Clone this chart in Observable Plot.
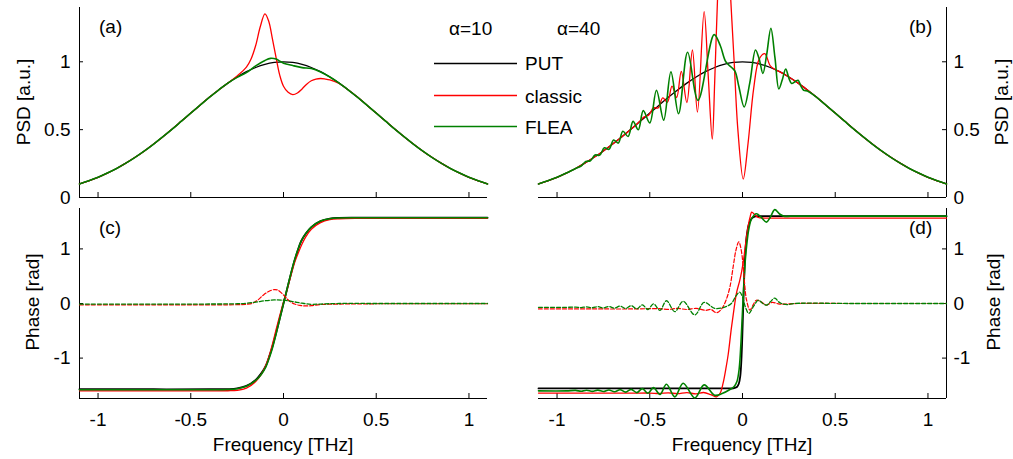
<!DOCTYPE html>
<html><head><meta charset="utf-8">
<script src="https://cdn.jsdelivr.net/npm/d3@7"></script>
<script src="https://cdn.jsdelivr.net/npm/@observablehq/plot@0.6"></script>
<style>
html,body{margin:0;padding:0;background:#fff;}
#wrap{position:relative;width:1013px;height:459px;overflow:hidden;font-family:"Liberation Sans",Arial,sans-serif;}
.pane{position:absolute;}
#overlay{position:absolute;left:0;top:0;pointer-events:none;}
#overlay text{font-family:"Liberation Sans",Arial,sans-serif;font-size:19px;fill:#000;}
</style></head><body>
<div id="wrap">
 <div class="pane" id="pa" style="left:0;top:0;width:500px"></div>
 <div class="pane" id="pb" style="left:506px;top:0;width:507px"></div>
 <div class="pane" id="pc" style="left:0;top:200px;width:500px"></div>
 <div class="pane" id="pd" style="left:506px;top:200px;width:507px"></div>
 <svg id="overlay" width="1013" height="459">
  <text x="99" y="33">(a)</text>
  <text x="909" y="33">(b)</text>
  <text x="99" y="234">(c)</text>
  <text x="909" y="234">(d)</text>
  <text x="449" y="35">α=10</text>
  <text x="557" y="35">α=40</text>
  <line x1="434" x2="517" y1="63.5" y2="63.5" stroke="#000000" stroke-width="1.3"/>
  <line x1="434" x2="517" y1="95.5" y2="95.5" stroke="#ff0000" stroke-width="1.5"/>
  <line x1="434" x2="517" y1="126.5" y2="126.5" stroke="#008000" stroke-width="1.7"/>
  <text x="525" y="70">PUT</text>
  <text x="525" y="102.5">classic</text>
  <text x="525" y="133.5">FLEA</text>
  <text transform="translate(29.5,102) rotate(-90)" text-anchor="middle">PSD [a.u.]</text>
  <text transform="translate(1008,102) rotate(-90)" text-anchor="middle">PSD [a.u.]</text>
  <text transform="translate(38.5,302) rotate(-90)" text-anchor="middle">Phase [rad]</text>
  <text transform="translate(999.5,302) rotate(-90)" text-anchor="middle">Phase [rad]</text>
  <text x="283" y="451" text-anchor="middle">Frequency [THz]</text>
  <text x="742" y="451" text-anchor="middle">Frequency [THz]</text>
 </svg>
</div>
<script>
// ---------- axes ----------
const freqDomain = [-1.1, 1.1];
const psdDomain = [0, 1.4];
const phaseDomain = [-1.74, 1.74];
const xTicks = [-1, -0.5, 0, 0.5, 1];
const psdTicks = [0, 0.5, 1];
const phaseTicks = [-1, 0, 1];

// ---------- PSD of the pulse under test (PUT) ----------
const putFreq = [-1.1,-1.05,-1,-0.95,-0.9,-0.85,-0.8,-0.75,-0.7,-0.65,-0.6,-0.55,-0.5,-0.45,-0.4,-0.35,-0.3,-0.25,-0.2,-0.15,-0.1,-0.05,0,
  0.05,0.1,0.15,0.2,0.25,0.3,0.35,0.4,0.45,0.5,0.55,0.6,0.65,0.7,0.75,0.8,0.85,0.9,0.95,1,1.05,1.1];
const putPSD = [0.100,0.123,0.149,0.180,0.214,0.253,0.296,0.343,0.394,0.448,0.504,0.563,0.622,0.680,0.738,0.792,0.843,0.888,0.927,0.958,0.981,0.995,1.000,
  0.995,0.981,0.958,0.927,0.888,0.843,0.792,0.738,0.680,0.622,0.563,0.504,0.448,0.394,0.343,0.296,0.253,0.214,0.180,0.149,0.123,0.100];

// ---------- (a) alpha=10 : where retrievals differ from PUT ----------
const classicA = [[-0.30,0.843],[-0.25,0.895],[-0.20,0.96],[-0.175,1.02],[-0.15,1.12],[-0.125,1.26],[-0.10,1.353],[-0.08,1.30],[-0.06,1.17],
  [-0.04,1.03],[-0.02,0.90],[0.00,0.82],[0.025,0.775],[0.05,0.758],[0.075,0.77],[0.10,0.80],[0.125,0.835],[0.15,0.86],[0.175,0.873],
  [0.20,0.877],[0.225,0.873],[0.25,0.866],[0.30,0.84],[0.35,0.792]];
const fleaA = [[-0.30,0.843],[-0.25,0.885],[-0.20,0.92],[-0.15,0.97],[-0.10,1.01],[-0.07,1.025],[-0.04,1.02],[-0.02,1.005],[0.00,0.99],
  [0.05,0.972],[0.10,0.957],[0.15,0.95],[0.20,0.925],[0.25,0.888]];

// ---------- (b) alpha=40 ----------
const classicB = [[-0.60,0.504],[-0.555,0.56],[-0.53,0.594],[-0.505,0.608],[-0.48,0.66],[-0.455,0.66],[-0.43,0.734],[-0.405,0.702],[-0.38,0.82],
  [-0.355,0.737],[-0.33,0.93],[-0.30,0.70],[-0.27,1.087],[-0.243,0.63],[-0.207,1.37],[-0.185,0.90],[-0.163,0.43],[-0.15,0.85],[-0.135,1.45],
  [-0.12,1.9],[-0.10,2.1],[-0.08,1.9],[-0.063,1.45],[-0.045,1.0],[-0.025,0.5],[0.004,0.136],[0.03,0.40],[0.06,0.80],[0.09,1.02],[0.12,1.06],
  [0.15,0.97],[0.18,0.94],[0.20,0.927]];
const fleaB = [[-0.90,0.214],[-0.87,0.232],[-0.845,0.265],[-0.82,0.271],[-0.795,0.313],[-0.77,0.312],[-0.745,0.366],[-0.72,0.355],[-0.695,0.424],
  [-0.67,0.401],[-0.645,0.488],[-0.617,0.45],[-0.59,0.561],[-0.562,0.499],[-0.535,0.64],[-0.50,0.55],[-0.464,0.79],[-0.425,0.57],[-0.386,0.926],
  [-0.345,0.617],[-0.296,1.07],[-0.24,0.716],[-0.153,1.2],[-0.12,1.12],[-0.09,1.0],[-0.06,0.96],[-0.04,0.93],[-0.02,0.82],[0.009,0.667],
  [0.04,0.85],[0.07,1.087],[0.09,1.02],[0.11,0.914],[0.13,1.05],[0.153,1.247],[0.175,1.03],[0.196,0.80],[0.215,0.87],[0.233,0.947],[0.25,0.88],
  [0.265,0.84],[0.285,0.855],[0.30,0.864],[0.315,0.82],[0.33,0.79],[0.35,0.785],[0.40,0.738]];

// ---------- (c) phase, alpha=10 ----------
const putPhaseC = [[-1.1,-1.571],[-0.7,-1.571],[-0.4,-1.571],[-0.3,-1.568],[-0.25,-1.555],[-0.2,-1.51],[-0.15,-1.40],[-0.12,-1.28],[-0.095,-1.14],
  [-0.075,-0.95],[-0.06,-0.79],[-0.04,-0.54],[-0.02,-0.27],[0,0],[0.02,0.27],[0.04,0.54],[0.06,0.79],[0.075,0.95],[0.095,1.14],[0.12,1.28],
  [0.15,1.40],[0.2,1.51],[0.25,1.555],[0.3,1.568],[0.4,1.571],[0.7,1.571],[1.1,1.571]];
const classicPhaseC = [[-1.1,-1.60],[-0.7,-1.60],[-0.4,-1.60],[-0.3,-1.598],[-0.25,-1.59],[-0.2,-1.55],[-0.15,-1.43],[-0.12,-1.30],[-0.1,-1.17],
  [-0.08,-0.99],[-0.06,-0.75],[-0.04,-0.48],[-0.02,-0.22],[0,0.03],[0.02,0.26],[0.04,0.51],[0.06,0.75],[0.08,0.93],[0.1,1.09],[0.12,1.22],
  [0.15,1.36],[0.2,1.48],[0.25,1.535],[0.3,1.552],[0.4,1.56],[0.7,1.56],[1.1,1.56]];
const fleaPhaseC = [[-1.1,-1.58],[-0.7,-1.58],[-0.4,-1.58],[-0.3,-1.575],[-0.25,-1.56],[-0.2,-1.515],[-0.15,-1.41],[-0.12,-1.30],[-0.095,-1.16],
  [-0.075,-0.98],[-0.06,-0.82],[-0.04,-0.56],[-0.02,-0.28],[0,0],[0.02,0.28],[0.04,0.55],[0.06,0.80],[0.075,0.96],[0.095,1.14],[0.12,1.28],
  [0.15,1.40],[0.2,1.51],[0.25,1.553],[0.3,1.566],[0.4,1.57],[0.7,1.57],[1.1,1.57]];
const classicErrC = [[-1.1,-0.025],[-0.7,-0.025],[-0.5,-0.025],[-0.25,-0.022],[-0.2,-0.015],[-0.17,0.0],[-0.14,0.06],[-0.11,0.15],[-0.08,0.22],
  [-0.05,0.255],[-0.03,0.245],[-0.01,0.19],[0.01,0.12],[0.03,0.05],[0.06,-0.01],[0.09,-0.035],[0.12,-0.045],[0.15,-0.04],[0.2,-0.02],
  [0.3,-0.01],[0.5,-0.005],[0.8,-0.005],[1.1,-0.005]];
const fleaErrC = [[-1.1,-0.01],[-0.7,-0.01],[-0.5,-0.01],[-0.25,-0.005],[-0.2,0.005],[-0.15,0.025],[-0.1,0.05],[-0.05,0.065],[0,0.06],
  [0.05,0.035],[0.1,0.005],[0.15,-0.015],[0.2,-0.01],[0.3,0],[0.5,0],[0.8,0],[1.1,0]];

// ---------- (d) phase, alpha=40 ----------
const putPhaseD = [[-1.1,-1.555],[-0.7,-1.555],[-0.4,-1.555],[-0.1,-1.555],[-0.05,-1.553],[-0.03,-1.53],[-0.02,-1.47],[-0.012,-1.33],
  [-0.005,-0.97],[0.004,-0.06],[0.013,0.79],[0.022,1.22],[0.035,1.46],[0.05,1.56],[0.07,1.595],[0.1,1.6],[0.4,1.6],[0.7,1.6],[1.1,1.6]];
const classicPhaseD = [[-1.1,-1.64],[-0.8,-1.64],[-0.6,-1.642],[-0.5,-1.64],[-0.45,-1.648],[-0.4,-1.636],[-0.35,-1.652],[-0.3,-1.632],
  [-0.25,-1.655],[-0.21,-1.63],[-0.17,-1.67],[-0.14,-1.71],[-0.12,-1.64],[-0.104,-1.45],[-0.09,-1.2],[-0.077,-0.93],[-0.06,-0.45],
  [-0.045,-0.08],[-0.032,0.2],[-0.015,0.42],[-0.005,0.58],[0.005,0.78],[0.013,0.99],[0.025,1.3],[0.04,1.57],[0.05,1.675],[0.065,1.63],
  [0.085,1.575],[0.12,1.565],[0.3,1.565],[0.7,1.565],[1.1,1.565]];
const fleaPhaseD = [[-1.1,-1.60],[-0.95,-1.60],[-0.9,-1.592],[-0.87,-1.608],[-0.84,-1.59],[-0.81,-1.61],[-0.78,-1.587],[-0.75,-1.613],
  [-0.72,-1.584],[-0.69,-1.617],[-0.66,-1.579],[-0.63,-1.623],[-0.6,-1.572],[-0.57,-1.632],[-0.54,-1.56],[-0.51,-1.645],[-0.48,-1.54],
  [-0.445,-1.665],[-0.41,-1.48],[-0.365,-1.71],[-0.32,-1.46],[-0.257,-1.73],[-0.207,-1.49],[-0.15,-1.68],[-0.11,-1.65],[-0.07,-1.58],
  [-0.045,-1.52],[-0.03,-1.43],[-0.018,-1.2],[-0.008,-0.7],[0.002,0.0],[0.012,0.65],[0.022,1.05],[0.035,1.38],[0.05,1.56],[0.075,1.645],
  [0.1,1.58],[0.129,1.49],[0.15,1.58],[0.174,1.72],[0.2,1.64],[0.228,1.596],[0.26,1.6],[0.5,1.6],[0.8,1.6],[1.1,1.6]];
const classicErrD = [[-1.1,-0.10],[-0.8,-0.10],[-0.6,-0.10],[-0.45,-0.095],[-0.4,-0.108],[-0.35,-0.09],[-0.3,-0.11],[-0.25,-0.09],[-0.2,-0.125],
  [-0.17,-0.11],[-0.14,-0.17],[-0.113,-0.1],[-0.09,0.05],[-0.068,0.3],[-0.05,0.68],[-0.035,0.98],[-0.02,1.13],[-0.008,1.0],[0.004,0.67],
  [0.013,0.3],[0.022,0.06],[0.04,-0.12],[0.058,-0.02],[0.075,0.06],[0.1,0.03],[0.13,-0.03],[0.16,0.02],[0.2,-0.01],[0.3,0.0],[0.6,0.0],[1.1,0.0]];
const fleaErrD = [[-1.1,-0.07],[-0.95,-0.07],[-0.9,-0.066],[-0.87,-0.074],[-0.84,-0.062],[-0.81,-0.078],[-0.78,-0.058],[-0.75,-0.082],
  [-0.72,-0.054],[-0.69,-0.086],[-0.66,-0.048],[-0.63,-0.092],[-0.6,-0.04],[-0.57,-0.1],[-0.54,-0.025],[-0.51,-0.11],[-0.48,-0.005],
  [-0.445,-0.125],[-0.41,0.05],[-0.365,-0.15],[-0.32,0.04],[-0.257,-0.21],[-0.207,0.02],[-0.15,-0.09],[-0.1,-0.07],[-0.06,0.0],
  [-0.035,0.14],[-0.015,0.21],[0.0,0.12],[0.015,-0.06],[0.034,-0.18],[0.06,-0.05],[0.085,0.06],[0.11,0.0],[0.13,-0.03],[0.15,0.03],
  [0.174,0.1],[0.195,0.03],[0.21,0.0],[0.24,-0.02],[0.28,0.0],[0.6,0.0],[1.1,0.0]];

// ---------- build ----------
const putPoints = putFreq.map((f, i) => [f, putPSD[i]]);
function withPUT(dev) {
  const lo = dev[0][0], hi = dev[dev.length - 1][0];
  return [...putPoints.filter(p => p[0] < lo), ...dev, ...putPoints.filter(p => p[0] > hi)];
}
const BLACK = "#000000", RED = "#ff0000", GREEN = "#008000";
const FONT = "'Liberation Sans', Arial, Helvetica, sans-serif";

function makePanel({width, height, marginLeft, marginRight, marginTop, marginBottom, yDomain, yTicks, yAnchor, xLabels, series}) {
  const frameW = width - marginLeft - marginRight;
  const frameH = height - marginTop - marginBottom;
  const left = yAnchor === "left";
  const marks = [
    Plot.ruleY([yDomain[0]], {stroke: BLACK, strokeWidth: 1}),
    Plot.ruleX([left ? freqDomain[0] : freqDomain[1]], {stroke: BLACK, strokeWidth: 1}),
    Plot.tickX(xTicks, {x: d => d, insetTop: frameH - 5, stroke: BLACK}),
    Plot.tickY(yTicks, {y: d => d, [left ? "insetRight" : "insetLeft"]: frameW - 4, stroke: BLACK}),
    Plot.axisY(yTicks, {anchor: yAnchor, tickSize: 0, tickPadding: left ? 9 : 7, tickFormat: d => String(d), label: null, fontSize: 19})
  ];
  if (xLabels) marks.push(Plot.axisX(xTicks, {anchor: "bottom", tickSize: 0, tickPadding: 14, tickFormat: d => String(d), label: null, fontSize: 19}));
  for (const s of series) {
    marks.push(Plot.line(s.data, {x: d => d[0], y: d => d[1], stroke: s.color, strokeWidth: s.width,
      strokeDasharray: s.dash, curve: "catmull-rom"}));
  }
  return Plot.plot({
    width, height, marginLeft, marginRight, marginTop, marginBottom,
    x: {domain: freqDomain, axis: null},
    y: {domain: yDomain, axis: null},
    style: {background: "transparent", fontFamily: FONT, fontSize: "19px", color: "black"},
    marks
  });
}

document.getElementById("pa").append(makePanel({
  width: 500, height: 215, marginLeft: 79, marginRight: 13, marginTop: 7, marginBottom: 18,
  yDomain: psdDomain, yTicks: psdTicks, yAnchor: "left", xLabels: false,
  series: [
    {data: putPoints, color: BLACK, width: 1.3},
    {data: withPUT(classicA), color: RED, width: 1.3},
    {data: withPUT(fleaA), color: GREEN, width: 1.6}
  ]
}));
document.getElementById("pb").append(makePanel({
  width: 507, height: 215, marginLeft: 32, marginRight: 67, marginTop: 7, marginBottom: 18,
  yDomain: psdDomain, yTicks: psdTicks, yAnchor: "right", xLabels: false,
  series: [
    {data: putPoints, color: BLACK, width: 1.3},
    {data: withPUT(classicB), color: RED, width: 1.3},
    {data: withPUT(fleaB), color: GREEN, width: 1.6}
  ]
}));
document.getElementById("pc").append(makePanel({
  width: 500, height: 259, marginLeft: 79, marginRight: 13, marginTop: 8, marginBottom: 61,
  yDomain: phaseDomain, yTicks: phaseTicks, yAnchor: "left", xLabels: true,
  series: [
    {data: putPhaseC, color: BLACK, width: 1.8},
    {data: classicPhaseC, color: RED, width: 1.3},
    {data: fleaPhaseC, color: GREEN, width: 1.6},
    {data: classicErrC, color: RED, width: 1.2, dash: "4,2"},
    {data: fleaErrC, color: GREEN, width: 1.3, dash: "4,2"}
  ]
}));
document.getElementById("pd").append(makePanel({
  width: 507, height: 259, marginLeft: 32, marginRight: 67, marginTop: 8, marginBottom: 61,
  yDomain: phaseDomain, yTicks: phaseTicks, yAnchor: "right", xLabels: true,
  series: [
    {data: putPhaseD, color: BLACK, width: 1.8},
    {data: classicPhaseD, color: RED, width: 1.3},
    {data: fleaPhaseD, color: GREEN, width: 1.6},
    {data: classicErrD, color: RED, width: 1.2, dash: "4,2"},
    {data: fleaErrD, color: GREEN, width: 1.3, dash: "4,2"}
  ]
}));
</script>
</body></html>
